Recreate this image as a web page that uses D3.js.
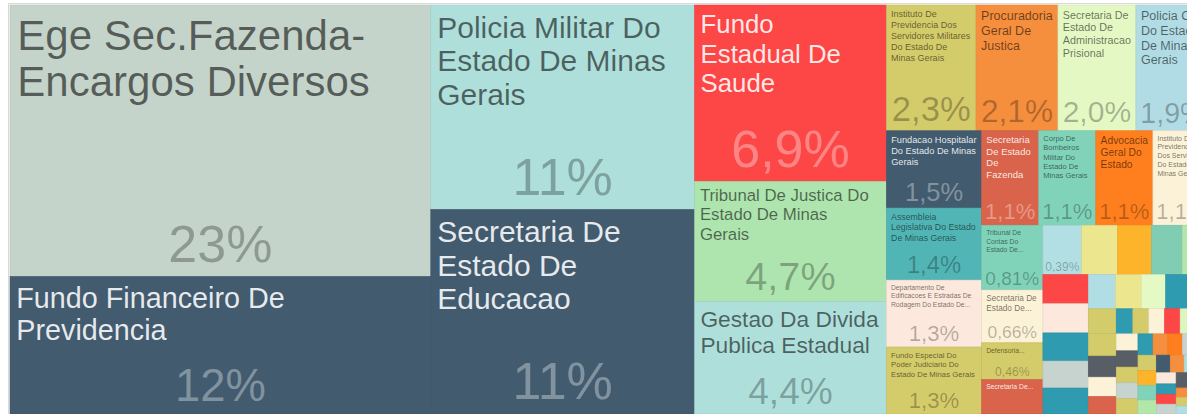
<!DOCTYPE html>
<html><head><meta charset="utf-8">
<script src="https://cdn.jsdelivr.net/npm/d3@7"></script>
<style>html,body{margin:0;padding:0;background:#fff;overflow:hidden}</style>
</head><body><svg id="chart" width="1187" height="414"></svg>
<script>
// ---------------- data ----------------
const names = [
  "Ege Sec.Fazenda-Encargos Diversos",
  "Fundo Financeiro De Previdencia",
  "Policia Militar Do Estado De Minas Gerais",
  "Secretaria De Estado De Educacao",
  "Fundo Estadual De Saude",
  "Tribunal De Justica Do Estado De Minas Gerais",
  "Gestao Da Divida Publica Estadual",
  "Instituto De Previdencia Dos Servidores Militares Do Estado De Minas Gerais",
  "Procuradoria Geral De Justica",
  "Secretaria De Estado De Administracao Prisional",
  "Policia Civil Do Estado De Minas Gerais",
  "Fundacao Hospitalar Do Estado De Minas Gerais",
  "Assembleia Legislativa Do Estado De Minas Gerais",
  "Departamento De Edificacoes E Estradas De Rodagem Do Estado De Minas Gerais",
  "Fundo Especial Do Poder Judiciario Do Estado De Minas Gerais",
  "Secretaria De Estado De Fazenda",
  "Corpo De Bombeiros Militar Do Estado De Minas Gerais",
  "Advocacia Geral Do Estado",
  "Instituto De Previdencia Dos Servidores Do Estado De Minas Gerais",
  "Tribunal De Contas Do Estado De Minas Gerais",
  "Secretaria De Estado De...",
  "Defensoria Publica Do Estado De Minas Gerais",
  "Secretaria De Estado De..."
];
const namedValues = [23.3, 11.8, 11, 11, 6.9, 4.7, 4.4, 2.3, 2.1, 2.0, 1.9, 1.5, 1.4, 1.3, 1.3,
  1.1, 1.1, 1.1, 1.1, 0.81, 0.66, 0.46, 0.43];
// smaller, unlabeled units (percent of total)
const smallValues = [0.39, 0.36, 0.34, 0.31, 0.28,
  0.27, 0.27, 0.26, 0.25, 0.24,
  0.19, 0.18, 0.17, 0.16, 0.15,
  0.14, 0.13, 0.12, 0.11, 0.10,
  0.085, 0.082, 0.08, 0.08, 0.078, 0.075, 0.075, 0.072, 0.07, 0.07, 0.068, 0.065, 0.065,
  0.062, 0.06, 0.06, 0.058, 0.055, 0.055, 0.052, 0.05, 0.05, 0.048, 0.045, 0.045, 0.042,
  0.04, 0.04, 0.038, 0.035, 0.032, 0.03, 0.028, 0.025, 0.022, 0.02, 0.018, 0.015, 0.012, 0.01];

const namedColors = ["#C5D4CA", "#425B6F", "#AEDFDB", "#425B6F", "#FD4646", "#AEE4AE", "#AEDFDB",
  "#D4CB6A", "#F58F3E", "#E4F8C4", "#B2DCE5", "#425B6F", "#52B5B5", "#FCE8DC", "#D4CB6A",
  "#D9644B", "#80D3B9", "#FF7F1E", "#FCF2D8", "#80D3B9", "#FCF2D8", "#D4CB6A", "#D9644B"];
const smallColors = ["#B1DFE3", "#ECE68F", "#FDB42A", "#80CDB3", "#B3E7AA",
  "#FD4646", "#FCE8DC", "#2E9BB0", "#C6D3CF", "#2E9BB0",
  "#B0DEE4", "#ECE68F", "#E4F9C4", "#2E9BB0", "#C6D3CF",
  "#D4CB6A", "#D4CB6A", "#575E65", "#FCF2D8", "#D9644B",
  "#2E9BB0", "#D4CB6A", "#FCF2D8", "#FD4646", "#DDF6BE", "#575E65", "#FCF2D8", "#575E65",
  "#D4CB6A", "#C6D3CF", "#D4CB6A", "#2E9BB0", "#F58F3E", "#FF7F1E", "#C6D3CF", "#2E9BB0",
  "#D4CB6A", "#FDB42A", "#80D3B9", "#B3E7AA", "#425B6F", "#F58F3E", "#AEDFDB", "#D4CB6A",
  "#FCE8DC", "#2E9BB0", "#FD4646", "#C6D3CF", "#575E65", "#ECE68F", "#80CDB3", "#F58F3E",
  "#D4CB6A", "#B0DEE4", "#575E65", "#FCF2D8", "#2E9BB0", "#D9644B", "#ECE68F", "#C6D3CF"];

// ---------------- layout ----------------
const WIDTH = 1187, HEIGHT = 414;
const TW = 1200, TH = 409, X0 = 10, Y0 = 5;
const FONT = '"Liberation Sans", Arial, Helvetica, sans-serif';
const MINFS = 6.8;

const svg = d3.select('#chart');
svg.append('rect').attr('width', WIDTH).attr('height', HEIGHT).attr('fill', '#fff');

const data = names.map((n, i) => ({name: n, value: namedValues[i], color: namedColors[i]}))
  .concat(smallValues.map((v, i) => ({name: "", value: v, color: smallColors[i % smallColors.length]})));

const root = d3.hierarchy({children: data})
  .sum(d => d.value || 0)
  .sort((a, b) => b.value - a.value);
d3.treemap().tile(d3.treemapSquarify.ratio(1.5)).size([TW, TH]).round(false)(root);
const total = root.value;
const loc = d3.formatLocale({decimal: ",", thousands: ".", grouping: [3], currency: ["R$", ""]});
const fmt = loc.format(".2r");

const ctx = document.createElement('canvas').getContext('2d');
const tw = (t, fs) => { ctx.font = fs + 'px ' + FONT; return ctx.measureText(t).width; };

function tokens(name) {
  const out = [];
  name.split(' ').forEach(w => w.split(/(?<=-)/).forEach(p => { if (p) out.push(p); }));
  return out;
}
const joinTok = (a, b) => a.endsWith('-') ? a + b : a + ' ' + b;
function wrap(toks, fs, maxW) {
  const lines = []; let cur = null;
  toks.forEach(t => {
    if (cur === null) { cur = t; return; }
    const c = joinTok(cur, t);
    if (tw(c, fs) <= maxW) cur = c; else { lines.push(cur); cur = t; }
  });
  if (cur !== null) lines.push(cur);
  return lines;
}
const geo = fs => ({padX: 4 + 0.08 * fs, top: 3 + 0.27 * fs, lh: 1.08 * fs + 1.2});
function tryFit(toks, fs, w, h) {
  const g = geo(fs), maxW = w - 2 * g.padX, budget = 0.55 * h - g.top;
  if (toks.some(t => tw(t, fs) > maxW)) return null;
  const lines = wrap(toks, fs, maxW);
  return lines.length * g.lh <= budget ? Object.assign({fs, lines}, g) : null;
}
function layoutName(name, w, h) {
  const toks = tokens(name);
  for (let fs = 42; fs >= MINFS; fs -= 0.25) {
    const r = tryFit(toks, fs, w, h);
    if (r) return r;
  }
  const fs = MINFS, g = geo(fs), maxW = w - 2 * g.padX, budget = 0.55 * h - g.top;
  const n = Math.floor(budget / g.lh);
  if (n < 1) return null;
  let lines = wrap(toks, fs, maxW);
  if (lines.length > n) {
    lines = lines.slice(0, n);
    const ws = lines[n - 1].replace(/\.\.\.$/, '').split(' ');
    let cand = ws.join(' ') + '...';
    while (tw(cand, fs) > maxW && ws.length > 1) { ws.pop(); cand = ws.join(' ') + '...'; }
    lines[n - 1] = cand;
  }
  return Object.assign({fs, lines}, g);
}
function isDark(c) {
  const r = d3.rgb(c);
  const f = v => { v /= 255; return v <= 0.03928 ? v / 12.92 : Math.pow((v + 0.055) / 1.055, 2.4); };
  return 0.2126 * f(r.r) + 0.7152 * f(r.g) + 0.0722 * f(r.b) < 0.3;
}

const plot = svg.append('g').attr('transform', `translate(${X0},${Y0})`);
const leaves = root.leaves();
const cell = plot.selectAll('g.cell').data(leaves).join('g')
  .attr('class', 'cell')
  .attr('transform', d => `translate(${d.x0},${d.y0})`);
cell.append('clipPath').attr('id', (d, i) => 'clip' + i)
  .append('rect').attr('width', d => d.x1 - d.x0).attr('height', d => d.y1 - d.y0);
cell.append('rect')
  .attr('width', d => d.x1 - d.x0).attr('height', d => d.y1 - d.y0)
  .attr('fill', d => d.data.color)
  .attr('stroke', d => d3.color(d.data.color).darker(0.25))
  .attr('stroke-width', 0.6);

cell.each(function(d, i) {
  const w = d.x1 - d.x0, h = d.y1 - d.y0;
  const dark = isDark(d.data.color);
  const g = d3.select(this).append('g').attr('clip-path', `url(#clip${i})`)
    .style('font-family', FONT);
  const pct = fmt(d.value / total * 100) + '%';
  if (w >= 36 && h >= 35) {
    const pfs = Math.min(0.33 * h, 0.88 * w / (tw(pct, 100) / 100), 52);
    if (pfs >= 7) {
      g.append('text').attr('class', 'pct')
        .attr('x', w / 2).attr('y', h - 0.28 * pfs)
        .attr('text-anchor', 'middle')
        .attr('font-size', pfs)
        .attr('fill', dark ? '#ffffff' : '#000000')
        .attr('fill-opacity', dark ? 0.34 : 0.28)
        .text(pct);
    }
  }
  if (d.data.name && w >= 50 && h >= 28) {
    const L = layoutName(d.data.name, w, h);
    if (L) {
      const t = g.append('text').attr('class', 'name')
        .attr('font-size', L.fs)
        .attr('fill', dark ? '#ffffff' : '#000000')
        .attr('fill-opacity', dark ? 0.88 : 0.56);
      L.lines.forEach((ln, k) => {
        t.append('tspan').attr('x', L.padX).attr('y', L.top + 0.72 * L.fs + k * L.lh).text(ln);
      });
    }
  }
});

// container frame
svg.append('path').attr('d', `M${X0 - 1.5},${HEIGHT}V${Y0 - 1.5}H${WIDTH}`)
  .attr('fill', 'none').attr('stroke', '#d9d9d9').attr('stroke-width', 1);
</script></body></html>
